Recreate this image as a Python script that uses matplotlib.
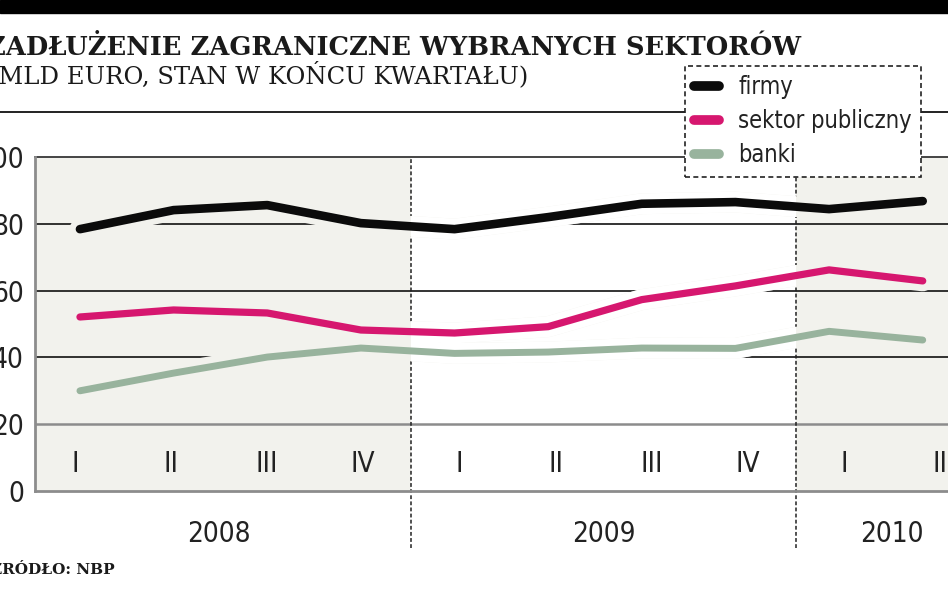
import matplotlib
matplotlib.use('Agg')
import matplotlib.pyplot as plt
from matplotlib.patches import Rectangle
from matplotlib.lines import Line2D
from matplotlib import font_manager as fm

# ---- data ----
quarters = ['I', 'II', 'III', 'IV', 'I', 'II', 'III', 'IV', 'I', 'II']
years = ['2008', '2009', '2010']
year_quarters = [4, 4, 2]
firmy = [78.4, 84.1, 85.6, 80.2, 78.4, 82.0, 86.0, 86.5, 84.4, 86.8]
sektor_publiczny = [52.1, 54.2, 53.3, 48.2, 47.3, 49.2, 57.3, 61.4, 66.2, 62.9]
banki = [30.0, 35.3, 40.1, 42.8, 41.2, 41.6, 42.8, 42.7, 47.8, 45.2]
series_names = ['firmy', 'sektor publiczny', 'banki']
yticks = [0, 20, 40, 60, 80, 100]

title = 'ZADŁUŻENIE ZAGRANICZNE WYBRANYCH SEKTORÓW'
subtitle = '(MLD EURO, STAN W KOŃCU KWARTAŁU)'
source = 'ŹRÓDŁO: NBP'

# ---- style ----
NARROW, STRETCH = 'Roboto', 'normal'
for f in fm.fontManager.ttflist:
    nm = f.name
    if ('Mono' in nm) or ('Serif' in nm):
        continue
    if ('Narrow' in nm or 'Condensed' in nm or f.stretch in ('condensed', 'semi-condensed')):
        NARROW, STRETCH = nm, f.stretch
        break
SERIF = 'DejaVu Serif'
colors = ['#0b0b0b', '#d6176f', '#98b39d']
widths = [6.2, 5.2, 5.0]
BEIGE = '#f2f2ed'
TXT = '#222222'

def nfont(size):
    return fm.FontProperties(family=NARROW, stretch=STRETCH, size=size)

W, H = 948, 593
fig = plt.figure(figsize=(W / 100, H / 100), dpi=100)
fig.patch.set_facecolor('white')

def fy(py):
    return 1 - py / H

rect = [35 / W, fy(491), (948 - 35) / W, (491 - 157) / H]

# background axes (grid, shading, labels)
ax_bg = fig.add_axes(rect)
ax_bg.set_facecolor(BEIGE)
ax_bg.set_xlim(-0.416, 9.084)
ax_bg.set_ylim(0, 100)
n = len(quarters)
xq = list(range(n))
bounds = []
acc = 0
for k in year_quarters[:-1]:
    acc += k
    bounds.append(acc - 0.5)
ax_bg.axvspan(bounds[0], bounds[1], color='white', zorder=0.5, lw=0)

for y in yticks[1:]:
    if y in (40, 60, 80):
        ax_bg.axhline(y, color='#111111', lw=1.2, zorder=1)
    elif y == 20:
        ax_bg.axhline(y, color='#8c8c8c', lw=1.8, zorder=1)
    else:
        ax_bg.axhline(y, color='#444444', lw=1.4, zorder=1, clip_on=False)

for s in ['top', 'right']:
    ax_bg.spines[s].set_visible(False)
for s in ['left', 'bottom']:
    ax_bg.spines[s].set_color('#8c8c8c')
    ax_bg.spines[s].set_linewidth(2.0)

ax_bg.set_yticks(yticks)
ax_bg.set_yticklabels([str(v) for v in yticks], color=TXT)
for t in ax_bg.get_yticklabels():
    t.set_fontproperties(nfont(20))
ax_bg.tick_params(axis='y', length=0, pad=8)
ax_bg.set_xticks([])

for i, q in enumerate(quarters):
    ax_bg.text(xq[i], 8, q, ha='center', va='center', fontproperties=nfont(20), color=TXT)

for b in bounds:
    ax_bg.plot([b, b], [-17, 100], color='#222222', lw=1.1, ls=(0, (2.5, 1.5)),
               clip_on=False, zorder=1.5)

start = 0
for yr, k in zip(years, year_quarters):
    cx = sum(xq[start:start + k]) / k
    ax_bg.text(cx, -12.9, yr, ha='center', va='center', fontproperties=nfont(20),
               color=TXT, clip_on=False)
    start += k

# line axes
ax_ln = fig.add_axes(rect)
ax_ln.set_facecolor('none')
ax_ln.set_xlim(-0.48, 9.27)
ax_ln.set_ylim(0, 100)
ax_ln.axis('off')

data = [firmy, sektor_publiczny, banki]
for vals in data:
    ax_ln.plot(xq, vals, color=BEIGE, lw=15, solid_capstyle='round',
               solid_joinstyle='round', zorder=2)
    h, = ax_ln.plot(xq, vals, color='white', lw=15, solid_capstyle='round',
                    solid_joinstyle='round', zorder=2.1)
    h.set_clip_path(Rectangle((bounds[0], -50), bounds[1] - bounds[0], 200,
                              transform=ax_bg.transData))
for vals, c, lw in zip(data, colors, widths):
    ax_ln.plot(xq, vals, color=c, lw=lw, solid_capstyle='round',
               solid_joinstyle='round', zorder=3)

# top black bar and separator
fig.patches.append(Rectangle((0, fy(13)), 1, 13 / H, transform=fig.transFigure,
                             color='black', zorder=0))
fig.lines.append(Line2D([0, 1], [fy(112), fy(112)], transform=fig.transFigure,
                        color='#222222', lw=1.4, zorder=0))

fig.text(-13 / W, fy(55), title, fontfamily=SERIF, fontweight='bold', fontsize=18.5,
         color='#1a1a1a', va='baseline', ha='left')
fig.text(-11 / W, fy(83), subtitle, fontfamily=SERIF, fontsize=17.5, color='#1a1a1a',
         va='baseline', ha='left')
fig.text(-9 / W, fy(574), source, fontfamily=SERIF, fontweight='bold', fontsize=11,
         color='#1a1a1a', va='baseline', ha='left')

handles = [Line2D([], [], color=c, lw=7, solid_capstyle='round') for c in colors]
leg = fig.legend(handles, series_names, loc='upper left',
                 bbox_to_anchor=(685 / W, fy(66)), borderaxespad=0,
                 frameon=True, fancybox=False, edgecolor='#222222', facecolor='white',
                 framealpha=1, handlelength=1.05, handletextpad=0.8, borderpad=0.4,
                 labelspacing=0.42, prop=nfont(17))
for t in leg.get_texts():
    t.set_color(TXT)
fr = leg.get_frame()
fr.set_linestyle((0, (3, 2)))
fr.set_linewidth(1.2)

fig.savefig('out.png', dpi=100)
